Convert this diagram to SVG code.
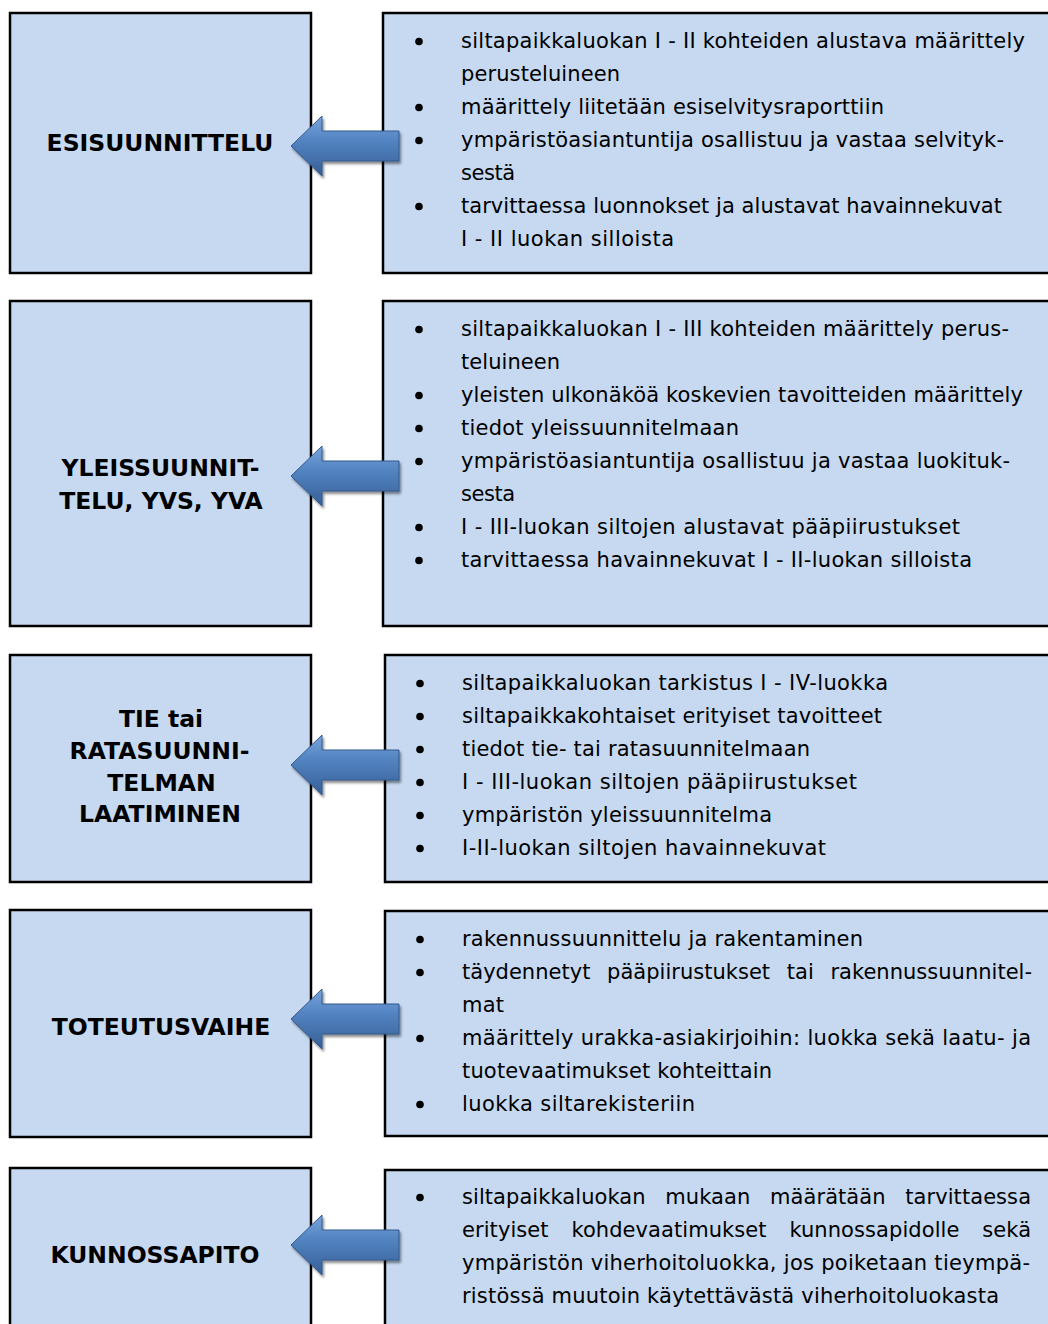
<svg xmlns="http://www.w3.org/2000/svg" width="1048" height="1324" viewBox="0 0 1048 1324">
<style>
.box{fill:#c6d9f1;stroke:#000;stroke-width:2.5}
.lbl{font-family:"DejaVu Sans",Verdana,sans-serif;font-weight:bold;font-size:23.5px;fill:#000;text-anchor:middle}
.t{font-family:"DejaVu Sans",Verdana,sans-serif;font-size:21px;fill:#000}
.b{fill:#000}
.arrow{fill:url(#ag);stroke:#35598a;stroke-width:1;filter:url(#sh)}
</style>
<defs>
<linearGradient id="ag" x1="0" y1="0" x2="0" y2="1">
<stop offset="0" stop-color="#78a4dc"/>
<stop offset="0.4" stop-color="#5384c2"/>
<stop offset="1" stop-color="#365f97"/>
</linearGradient>
<filter id="sh" x="-10%" y="-20%" width="130%" height="150%">
<feDropShadow dx="1.5" dy="2.5" stdDeviation="1.2" flood-color="#000" flood-opacity="0.45"/>
</filter>
</defs>
<rect width="1048" height="1324" fill="#fff"/>

<g id="stage-esisuunnittelu">
<rect class="box" x="10" y="13" width="301" height="260"/>
<text class="lbl" x="160" y="151">ESISUUNNITTELU</text>
</g>
<g id="details-esisuunnittelu">
<rect class="box" x="383" y="13" width="700" height="260"/>
<circle class="b" cx="419" cy="41.5" r="3.8"/>
<circle class="b" cx="419" cy="107.5" r="3.8"/>
<circle class="b" cx="419" cy="140.5" r="3.8"/>
<circle class="b" cx="419" cy="206.5" r="3.8"/>
<text class="t" x="461" y="48" textLength="564">siltapaikkaluokan I - II kohteiden alustava määrittely</text>
<text class="t" x="461" y="81" textLength="159">perusteluineen</text>
<text class="t" x="461" y="114" textLength="423">määrittely liitetään esiselvitysraporttiin</text>
<text class="t" x="461" y="147" textLength="543">ympäristöasiantuntija osallistuu ja vastaa selvityk-</text>
<text class="t" x="461" y="180" textLength="54">sestä</text>
<text class="t" x="461" y="213" textLength="541">tarvittaessa luonnokset ja alustavat havainnekuvat</text>
<text class="t" x="461" y="246" textLength="213">I - II luokan silloista</text>
</g>

<g id="stage-yleissuunnittelu">
<rect class="box" x="10" y="301" width="301" height="325"/>
<text class="lbl" x="160.5" y="476">YLEISSUUNNIT-</text>
<text class="lbl" x="161" y="509">TELU, YVS, YVA</text>
</g>
<g id="details-yleissuunnittelu">
<rect class="box" x="383" y="301" width="700" height="325"/>
<circle class="b" cx="419" cy="329.5" r="3.8"/>
<circle class="b" cx="419" cy="395.5" r="3.8"/>
<circle class="b" cx="419" cy="428.5" r="3.8"/>
<circle class="b" cx="419" cy="461.5" r="3.8"/>
<circle class="b" cx="419" cy="527.5" r="3.8"/>
<circle class="b" cx="419" cy="560.5" r="3.8"/>
<text class="t" x="461" y="336" textLength="548">siltapaikkaluokan I - III kohteiden määrittely perus-</text>
<text class="t" x="461" y="369" textLength="99">teluineen</text>
<text class="t" x="461" y="402" textLength="562">yleisten ulkonäköä koskevien tavoitteiden määrittely</text>
<text class="t" x="461" y="435" textLength="278">tiedot yleissuunnitelmaan</text>
<text class="t" x="461" y="468" textLength="549">ympäristöasiantuntija osallistuu ja vastaa luokituk-</text>
<text class="t" x="461" y="501" textLength="54">sesta</text>
<text class="t" x="461" y="534" textLength="499">I - III-luokan siltojen alustavat pääpiirustukset</text>
<text class="t" x="461" y="567" textLength="511">tarvittaessa havainnekuvat I - II-luokan silloista</text>
</g>

<g id="stage-ratasuunnitelma">
<rect class="box" x="10" y="655" width="301" height="227"/>
<text class="lbl" x="161" y="727">TIE tai</text>
<text class="lbl" x="159.5" y="759">RATASUUNNI-</text>
<text class="lbl" x="161.5" y="791">TELMAN</text>
<text class="lbl" x="160" y="822">LAATIMINEN</text>
</g>
<g id="details-ratasuunnitelma">
<rect class="box" x="385" y="655" width="700" height="227"/>
<circle class="b" cx="420" cy="683.5" r="3.8"/>
<circle class="b" cx="420" cy="716.5" r="3.8"/>
<circle class="b" cx="420" cy="749.5" r="3.8"/>
<circle class="b" cx="420" cy="782.5" r="3.8"/>
<circle class="b" cx="420" cy="815.5" r="3.8"/>
<circle class="b" cx="420" cy="848.5" r="3.8"/>
<text class="t" x="462" y="690" textLength="426">siltapaikkaluokan tarkistus I - IV-luokka</text>
<text class="t" x="462" y="723" textLength="420">siltapaikkakohtaiset erityiset tavoitteet</text>
<text class="t" x="462" y="756" textLength="348">tiedot tie- tai ratasuunnitelmaan</text>
<text class="t" x="462" y="789" textLength="395">I - III-luokan siltojen pääpiirustukset</text>
<text class="t" x="462" y="822" textLength="310">ympäristön yleissuunnitelma</text>
<text class="t" x="462" y="855" textLength="364">I-II-luokan siltojen havainnekuvat</text>
</g>

<g id="stage-toteutusvaihe">
<rect class="box" x="10" y="910" width="301" height="227"/>
<text class="lbl" x="161" y="1035">TOTEUTUSVAIHE</text>
</g>
<g id="details-toteutusvaihe">
<rect class="box" x="385" y="911" width="700" height="225"/>
<circle class="b" cx="420" cy="939.5" r="3.8"/>
<circle class="b" cx="420" cy="972.5" r="3.8"/>
<circle class="b" cx="420" cy="1038.5" r="3.8"/>
<circle class="b" cx="420" cy="1104.5" r="3.8"/>
<text class="t" x="462" y="946" textLength="401">rakennussuunnittelu ja rakentaminen</text>
<text class="t" x="462" y="979" word-spacing="10" textLength="570">täydennetyt pääpiirustukset tai rakennussuunnitel-</text>
<text class="t" x="462" y="1012" textLength="42">mat</text>
<text class="t" x="462" y="1045" textLength="569">määrittely urakka-asiakirjoihin: luokka sekä laatu- ja</text>
<text class="t" x="462" y="1078" textLength="310">tuotevaatimukset kohteittain</text>
<text class="t" x="462" y="1111" textLength="233">luokka siltarekisteriin</text>
</g>

<g id="stage-kunnossapito">
<rect class="box" x="10" y="1168" width="301" height="200"/>
<text class="lbl" x="155" y="1263">KUNNOSSAPITO</text>
</g>
<g id="details-kunnossapito">
<rect class="box" x="385" y="1170" width="700" height="200"/>
<circle class="b" cx="420" cy="1197.5" r="3.8"/>
<text class="t" x="462" y="1204" word-spacing="13" textLength="569">siltapaikkaluokan mukaan määrätään tarvittaessa</text>
<text class="t" x="462" y="1237" word-spacing="16" textLength="569">erityiset kohdevaatimukset kunnossapidolle sekä</text>
<text class="t" x="462" y="1270" textLength="568">ympäristön viherhoitoluokka, jos poiketaan tieympä-</text>
<text class="t" x="462" y="1303" textLength="537">ristössä muutoin käytettävästä viherhoitoluokasta</text>
</g>

<g id="connectors">
<path class="arrow" d="M291,146 L322,116 L322,131 L399,131 L399,161 L322,161 L322,176 Z"/>
<path class="arrow" d="M291,476 L322,446 L322,461 L399,461 L399,491 L322,491 L322,506 Z"/>
<path class="arrow" d="M291,765 L322,735 L322,750 L399,750 L399,780 L322,780 L322,795 Z"/>
<path class="arrow" d="M291,1019 L322,989 L322,1004 L399,1004 L399,1034 L322,1034 L322,1049 Z"/>
<path class="arrow" d="M291,1245 L322,1215 L322,1230 L399,1230 L399,1260 L322,1260 L322,1275 Z"/>
</g>
</svg>
